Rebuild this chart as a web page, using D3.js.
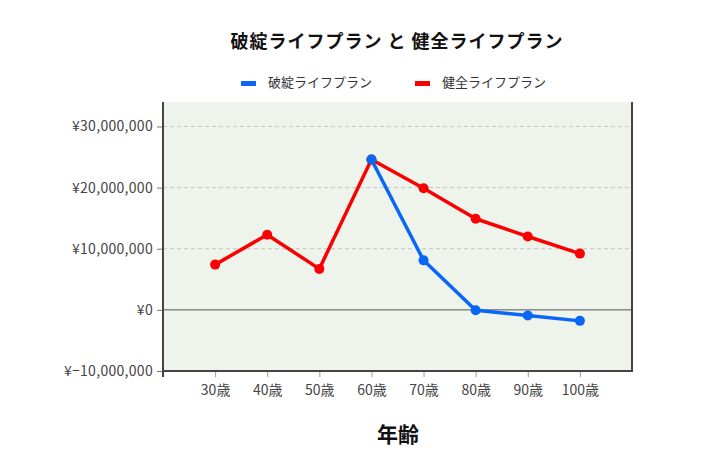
<!DOCTYPE html>
<html lang="ja">
<head>
<meta charset="utf-8" />
<title>破綻ライフプラン と 健全ライフプラン</title>
<script src="https://d3js.org/d3.v7.min.js"></script>
<style>
  body { margin: 0; background: #fff; font-family: "Noto Sans CJK JP", "Noto Sans", sans-serif; }
</style>
</head>
<body>
<script>
// データ
var ages = ["30歳", "40歳", "50歳", "60歳", "70歳", "80歳", "90歳", "100歳"];
var hatanAge = ["60歳", "70歳", "80歳", "90歳", "100歳"];
var hatanValues = [24600000, 8100000, -50000, -930000, -1800000];
var kenzenValues = [7400000, 12300000, 6700000, 24600000, 19900000, 14900000, 12000000, 9200000];
var yTicks = [-10000000, 0, 10000000, 20000000, 30000000];

var width = 724, height = 476;
var pLeft = 163, pRight = 632, pTop = 102, pBottom = 371;
var blue = "#0866f8", red = "#fa0000";

var svg = d3.select("body").append("svg")
  .attr("width", width).attr("height", height);

var x = d3.scaleLinear().domain([0, ages.length + 1]).range([pLeft, pRight]);
var y = d3.scaleLinear().domain([-10000000, 34000000]).range([pBottom, pTop]);
var xi = function (a) { return x(ages.indexOf(a) + 1); };

// 背景
svg.append("rect")
  .attr("x", pLeft).attr("y", pTop)
  .attr("width", pRight - pLeft).attr("height", pBottom - pTop)
  .attr("fill", "#eef3ec");

// グリッド
svg.append("g").selectAll("line")
  .data(yTicks.filter(function (d) { return d > 0; }))
  .enter().append("line")
  .attr("x1", pLeft).attr("x2", pRight)
  .attr("y1", function (d) { return y(d); }).attr("y2", function (d) { return y(d); })
  .attr("stroke", "#c4c8c2").attr("stroke-dasharray", "4,3");

svg.append("line")
  .attr("x1", pLeft).attr("x2", pRight)
  .attr("y1", y(0)).attr("y2", y(0))
  .attr("stroke", "#555").attr("stroke-width", 1);

// 軸
var yAxis = svg.append("g")
  .attr("transform", "translate(" + pLeft + ",0)")
  .call(d3.axisLeft(y).tickValues(yTicks).tickSize(6).tickPadding(4)
    .tickFormat(function (d) { return "¥" + d3.format(",")(d); }));
yAxis.select(".domain").remove();
yAxis.selectAll("text").attr("font-size", 14).attr("fill", "#444").attr("letter-spacing", 0.3)
  .attr("font-family", "'Noto Sans CJK JP', sans-serif");
yAxis.selectAll("line").attr("stroke", "#777");

var xAxis = svg.append("g")
  .attr("transform", "translate(0," + pBottom + ")")
  .call(d3.axisBottom(x).tickValues(d3.range(1, ages.length + 1)).tickSize(6).tickPadding(8)
    .tickFormat(function (d) { return ages[d - 1]; }));
xAxis.select(".domain").remove();
xAxis.selectAll("text").attr("font-size", 14).attr("fill", "#444")
  .attr("font-family", "'Noto Sans CJK JP', sans-serif");
xAxis.selectAll("line").attr("stroke", "#999");

// 枠線
svg.append("line").attr("x1", pLeft).attr("x2", pLeft).attr("y1", pTop).attr("y2", pBottom + 6)
  .attr("stroke", "#444").attr("stroke-width", 2);
svg.append("line").attr("x1", pLeft - 1).attr("x2", pRight + 1).attr("y1", pBottom).attr("y2", pBottom)
  .attr("stroke", "#444").attr("stroke-width", 2);
svg.append("line").attr("x1", pRight).attr("x2", pRight).attr("y1", pTop).attr("y2", pBottom)
  .attr("stroke", "#444").attr("stroke-width", 2);

// 線
var line = d3.line()
  .x(function (d) { return xi(d.age); })
  .y(function (d) { return y(d.v); });

var kenzen = ages.map(function (a, i) { return { age: a, v: kenzenValues[i] }; });
var hatan = hatanAge.map(function (a, i) { return { age: a, v: hatanValues[i] }; });

[[kenzen, red], [hatan, blue]].forEach(function (s) {
  svg.append("path").datum(s[0])
    .attr("d", line).attr("fill", "none")
    .attr("stroke", s[1]).attr("stroke-width", 3.5).attr("stroke-linejoin", "round");
  svg.append("g").selectAll("circle").data(s[0]).enter().append("circle")
    .attr("cx", function (d) { return xi(d.age); })
    .attr("cy", function (d) { return y(d.v); })
    .attr("r", 5).attr("fill", s[1]);
});

// タイトル
svg.append("text")
  .attr("x", 397).attr("y", 48)
  .attr("text-anchor", "middle")
  .attr("font-size", 18).attr("font-weight", "bold").attr("fill", "#111")
  .attr("letter-spacing", 1)
  .text("破綻ライフプラン と 健全ライフプラン");

// 凡例
var legend = [["破綻ライフプラン", blue, 241], ["健全ライフプラン", red, 415]];
legend.forEach(function (l) {
  svg.append("rect").attr("x", l[2]).attr("y", 81).attr("width", 15).attr("height", 5).attr("fill", l[1]);
  svg.append("text").attr("x", l[2] + 27).attr("y", 87)
    .attr("font-size", 13).attr("fill", "#333")
    .text(l[0]);
});

// 軸ラベル
svg.append("text")
  .attr("x", 398).attr("y", 442)
  .attr("text-anchor", "middle")
  .attr("font-size", 21).attr("font-weight", "bold").attr("fill", "#111")
  .text("年齢");
</script>
</body>
</html>
